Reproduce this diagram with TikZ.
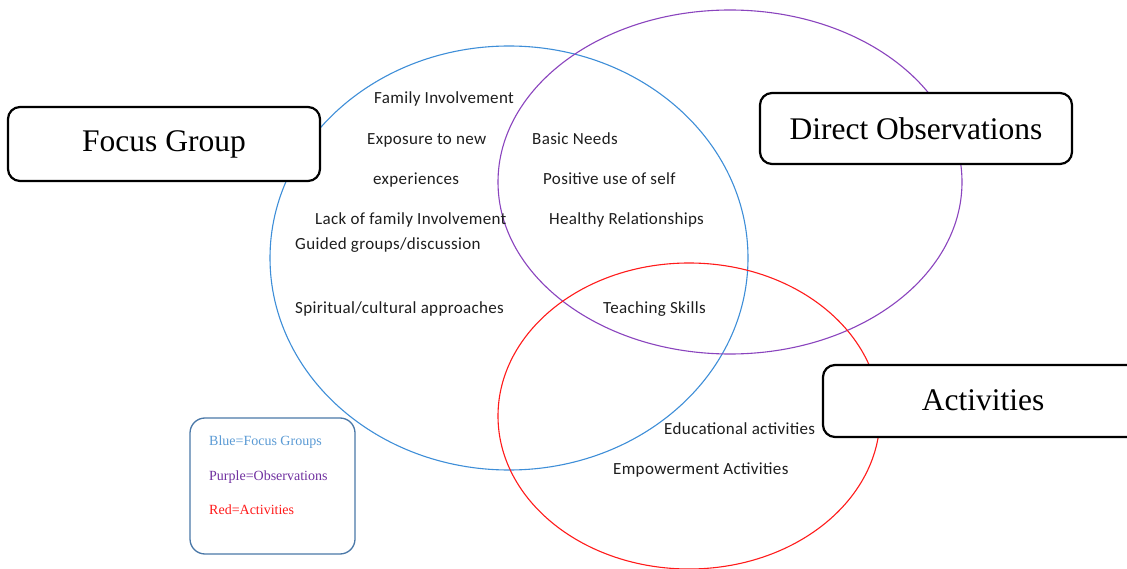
\documentclass[tikz,border=0pt]{standalone}
\usepackage{fontspec}
\setmainfont{Liberation Serif}
\newfontfamily\carlfont[LetterSpace=2]{Carlito}
\usetikzlibrary{shapes.geometric}
\definecolor{fgblue}{HTML}{3E8ED8}
\definecolor{obspurple}{HTML}{8A44BE}
\definecolor{actred}{HTML}{FF1A1A}
\definecolor{legframe}{HTML}{4A78A8}
\definecolor{legblue}{HTML}{5B9BD5}
\definecolor{legpurple}{HTML}{7030A0}
\definecolor{bodytext}{HTML}{1E1E1E}
\begin{document}
\begin{tikzpicture}[x=1pt,y=-1pt,
  setring/.style={draw, ellipse, inner sep=0pt, line width=1.1pt},
  titlebox/.style={draw=black, fill=white, line width=2.2pt, rounded corners=12pt,
    font=\fontsize{31.5}{36}\selectfont, inner sep=0pt},
  item/.style={anchor=west, inner sep=0pt, text=bodytext,
    font=\carlfont\fontsize{17}{19}\selectfont, text height=11.5pt, text depth=0pt},
  legtext/.style={anchor=west, inner sep=0pt, font=\fontsize{14}{16}\selectfont,
    text height=9.5pt, text depth=0pt}]
\useasboundingbox (0,0) rectangle (1127,569);
\fill[white] (0,0) rectangle (1127,569);

% the three overlapping sets
\node[setring, draw=fgblue, minimum width=478pt, minimum height=424pt] (fgset) at (509,258) {};
\node[setring, draw=obspurple, minimum width=464pt, minimum height=344pt] (obsset) at (730,182) {};
\node[setring, draw=actred, minimum width=382pt, minimum height=306pt] (actset) at (689,416) {};

% set titles
\node[titlebox, minimum width=312pt, minimum height=74pt] (fgtitle) at (164,144) {Focus Group};
\node[titlebox, minimum width=312pt, minimum height=71pt] (obstitle) at (916,128.5) {Direct Observations};
\node[titlebox, minimum width=320pt, minimum height=72pt] (acttitle) at (983,401) {\raisebox{1.5pt}{Activities}};

% items inside the sets
\node[item] (i1) at (374,98) {Family Involvement};
\node[item] (i2) at (367,139) {Exposure to new};
\node[item] (i3) at (373,179) {experiences};
\node[item] (i4) at (315,219) {Lack of family Involvement};
\node[item] (i5) at (295,244) {Guided groups/discussion};
\node[item] (i6) at (295,308) {Spiritual/cultural approaches};
\node[item] (i7) at (532,139) {Basic Needs};
\node[item] (i8) at (543,179) {Positive use of self};
\node[item] (i9) at (549,219) {Healthy Relationships};
\node[item] (i10) at (603,308) {Teaching Skills};
\node[item] (i11) at (664,429) {Educational activities};
\node[item] (i12) at (613,469) {Empowerment Activities};

% colour key
\node[draw=legframe, fill=white, line width=1.3pt, rounded corners=15pt,
  minimum width=165pt, minimum height=136pt, inner sep=0pt] (key) at (272.5,486) {};
\node[legtext, text=legblue] (k1) at (209,441) {Blue=Focus Groups};
\node[legtext, text=legpurple] (k2) at (209,476) {Purple=Observations};
\node[legtext, text=actred] (k3) at (209,510) {Red=Activities};
\end{tikzpicture}
\end{document}
